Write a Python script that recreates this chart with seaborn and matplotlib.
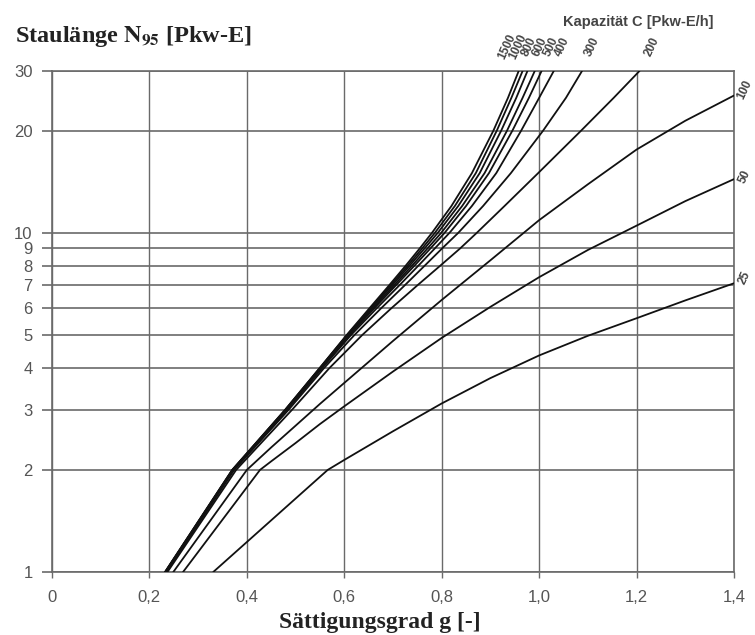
import matplotlib
matplotlib.use("Agg")
import matplotlib.pyplot as plt
import numpy as np
import pandas as pd
import seaborn as sns

# ---------------- data ----------------
CAPACITIES_TOP = ["1500", "1000", "800", "600", "500", "400", "300", "200"]
N_LEVELS = [1, 2, 3, 4, 5, 6, 7, 8, 9, 10, 12, 15, 20, 25, 30]
G_1500 = [0.232, 0.370, 0.478, 0.550, 0.605, 0.652, 0.692, 0.726, 0.755, 0.780, 0.820, 0.862, 0.906, 0.936, 0.958]
G_1000 = [0.232, 0.370, 0.478, 0.550, 0.606, 0.654, 0.695, 0.730, 0.760, 0.786, 0.827, 0.870, 0.913, 0.943, 0.966]
G_800 = [0.233, 0.371, 0.479, 0.551, 0.607, 0.656, 0.698, 0.734, 0.765, 0.792, 0.834, 0.878, 0.922, 0.953, 0.976]
G_600 = [0.233, 0.371, 0.480, 0.552, 0.609, 0.659, 0.702, 0.739, 0.771, 0.799, 0.842, 0.888, 0.934, 0.966, 0.991]
G_500 = [0.233, 0.372, 0.481, 0.553, 0.611, 0.662, 0.706, 0.744, 0.777, 0.806, 0.850, 0.897, 0.945, 0.979, 1.005]
G_400 = [0.234, 0.372, 0.482, 0.555, 0.614, 0.667, 0.713, 0.752, 0.786, 0.816, 0.862, 0.912, 0.963, 1.000, 1.030]
G_300 = [0.235, 0.374, 0.485, 0.559, 0.621, 0.676, 0.724, 0.765, 0.801, 0.834, 0.885, 0.942, 1.008, 1.055, 1.088]
G_200 = [0.237, 0.378, 0.492, 0.570, 0.637, 0.697, 0.750, 0.797, 0.838, 0.872, 0.929, 0.998, 1.086, 1.153, 1.206]

G_100 = [0.249, 0.40, 0.45, 0.50, 0.55, 0.60, 0.70, 0.80, 0.90, 1.00, 1.10, 1.20, 1.30, 1.40]
N_100 = [1.0, 2.0, 2.33, 2.70, 3.13, 3.61, 4.80, 6.34, 8.3, 10.9, 13.9, 17.6, 21.4, 25.4]
G_50 = [0.269, 0.427, 0.45, 0.50, 0.55, 0.60, 0.70, 0.80, 0.90, 1.00, 1.10, 1.20, 1.30, 1.40]
N_50 = [1.0, 2.0, 2.12, 2.40, 2.73, 3.08, 3.90, 4.90, 6.05, 7.4, 8.9, 10.5, 12.4, 14.4]
G_25 = [0.331, 0.566, 0.60, 0.70, 0.80, 0.90, 1.00, 1.10, 1.20, 1.30, 1.40]
N_25 = [1.0, 2.0, 2.14, 2.60, 3.14, 3.73, 4.35, 4.97, 5.6, 6.32, 7.1]

X_TICKS = [0, 0.2, 0.4, 0.6, 0.8, 1.0, 1.2, 1.4]
X_TICKLABELS = ["0", "0,2", "0,4", "0,6", "0,8", "1,0", "1,2", "1,4"]
Y_TICKS = [1, 2, 3, 4, 5, 6, 7, 8, 9, 10, 20, 30]
Y_TICKLABELS = ["1", "2", "3", "4", "5", "6", "7", "8", "9", "10", "20", "30"]

# ---------------- build long-form table ----------------
frames = []
for cap, gs in zip(CAPACITIES_TOP, [G_1500, G_1000, G_800, G_600, G_500, G_400, G_300, G_200]):
    frames.append(pd.DataFrame({"g": gs, "N": N_LEVELS, "C": cap}))
for cap, gs, ns in [("100", G_100, N_100), ("50", G_50, N_50), ("25", G_25, N_25)]:
    frames.append(pd.DataFrame({"g": gs, "N": ns, "C": cap}))
df = pd.concat(frames, ignore_index=True)
caps = list(df["C"].unique())

# ---------------- figure ----------------
sns.set_style("white")
plt.rcParams["mathtext.fontset"] = "stix"
W, H = 755, 635
fig = plt.figure(figsize=(W / 100, H / 100), dpi=100)
ax = fig.add_axes([52 / W, 1 - 572 / H, (734 - 52) / W, (572 - 71) / H])

grid_c = "#6a6a6a"
ax.set_yscale("log")
ax.set_xlim(0, 1.4)
ax.set_ylim(1, 30)
for y in Y_TICKS:
    ax.axhline(y, color=grid_c, lw=1.2, zorder=1)
for x in X_TICKS:
    ax.axvline(x, color=grid_c, lw=1.0, zorder=1)

sns.lineplot(data=df, x="g", y="N", hue="C", palette={c: "#111111" for c in caps},
             estimator=None, sort=True, legend=False, linewidth=1.3, ax=ax, zorder=3)

ax.set_xticks(X_TICKS)
ax.set_xticklabels(X_TICKLABELS)
ax.yaxis.set_minor_locator(matplotlib.ticker.NullLocator())
ax.set_yticks(Y_TICKS)
ax.set_yticklabels(Y_TICKLABELS)
ax.tick_params(axis="y", which="major", length=7, width=1.2, color=grid_c,
               pad=7, labelsize=12, labelcolor="#555555", direction="out", left=True)
ax.tick_params(axis="x", which="major", length=4, width=1.0, color=grid_c,
               pad=9, labelsize=12, labelcolor="#555555", direction="out", bottom=True)
for t in ax.get_xticklabels() + ax.get_yticklabels():
    t.set_fontfamily("Liberation Sans")
for s in ax.spines.values():
    s.set_color(grid_c)
    s.set_linewidth(1.2)
ax.set_xlabel("")
ax.set_ylabel("")

# titles
fig.text(15 / W, 1 - 42 / H, r"Staulänge $\mathbf{N}_{\mathbf{95}}$ [Pkw-E]",
         fontfamily="Liberation Serif", fontweight="bold", fontsize=17.5,
         color="#222222", ha="left", va="baseline")
fig.text(380 / W, 1 - 628 / H, "Sättigungsgrad g [-]", fontfamily="Liberation Serif",
         fontweight="bold", fontsize=17, color="#222222", ha="center", va="baseline")
fig.text(638 / W, 1 - 22 / H, "Kapazität C [Pkw-E/h]", fontfamily="Liberation Sans",
         fontweight="bold", fontsize=10.5, color="#444444", ha="center", va="center")

# curve labels (layout positions in pixels)
top_label_px = [507, 518, 529, 540, 551, 562, 592, 652]
for cap, px in zip(CAPACITIES_TOP, top_label_px):
    fig.text(px / W, 1 - 47 / H, cap, rotation=65, fontsize=8.5, fontweight="bold",
             fontfamily="Liberation Sans", color="#444444", ha="center", va="center")
right_labels = [("100", 90), ("50", 177), ("25", 278)]
for cap, py in right_labels:
    fig.text(745 / W, 1 - py / H, cap, rotation=65, fontsize=8.5, fontweight="bold",
             fontfamily="Liberation Sans", color="#444444", ha="center", va="center")

fig.savefig("out.png", dpi=100)
